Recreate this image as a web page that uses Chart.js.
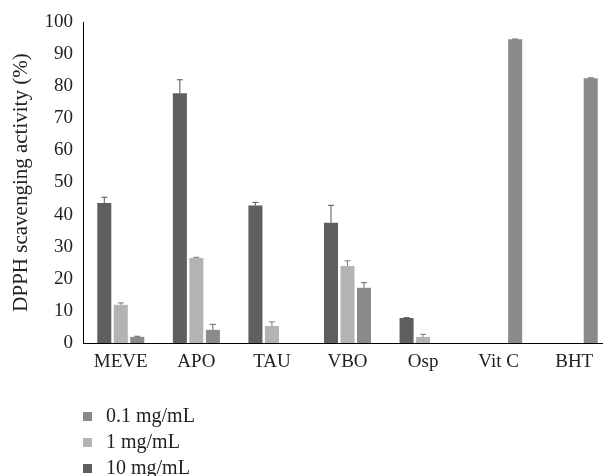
<!DOCTYPE html>
<html>
<head>
<meta charset="utf-8">
<script src="https://cdn.jsdelivr.net/npm/chart.js@4.4.1/dist/chart.umd.min.js"></script>
<style>
  body { margin: 0; background: #fff; }
  #wrap { position: relative; width: 603px; height: 476px; overflow: hidden; }
  #legend { position: absolute; left: 83px; top: 402px; font-family: "Liberation Serif", serif; font-size: 20px; color: #222; }
  #legend div { height: 26px; line-height: 26px; white-space: nowrap; }
  #legend span { display: inline-block; width: 9px; height: 9px; margin-right: 14px; vertical-align: 1px; }
</style>
</head>
<body>
<div id="wrap">
  <canvas id="chart" width="612" height="476"></canvas>
  <div id="legend"></div>
</div>
<script>
const categories = ['MEVE', 'APO', 'TAU', 'VBO', 'Osp', 'Vit C', 'BHT'];

// bars drawn in this order: 10, 1, 0.1 mg/mL
const conc10 = [43.6, 77.8, 42.8, 37.5, 7.8, null, null];
const conc10Err = [1.8, 4.2, 1.0, 5.4, 0.1, null, null];
const conc1 = [11.9, 26.5, 5.3, 24.0, 1.9, null, null];
const conc1Err = [0.6, 0.2, 1.3, 1.6, 0.8, null, null];
const conc01 = [1.9, 4.1, null, 17.2, null, 94.6, 82.5];
const conc01Err = [0.2, 1.7, null, 1.6, null, 0.1, 0.1];

const yTicks = [0, 10, 20, 30, 40, 50, 60, 70, 80, 90, 100];

const errorBars = {
  id: 'errorBars',
  afterDatasetsDraw(chart) {
    const ctx = chart.ctx;
    const y = chart.scales.y;
    chart.data.datasets.forEach((ds, i) => {
      const meta = chart.getDatasetMeta(i);
      meta.data.forEach((bar, j) => {
        const v = ds.data[j];
        const e = ds.errors[j];
        if (v == null || e == null) return;
        const top = y.getPixelForValue(v + e);
        ctx.save();
        ctx.strokeStyle = ds.errorColor;
        ctx.lineWidth = 1;
        ctx.beginPath();
        ctx.moveTo(bar.x, bar.y);
        ctx.lineTo(bar.x, top);
        ctx.moveTo(bar.x - 3, top);
        ctx.lineTo(bar.x + 3, top);
        ctx.stroke();
        ctx.restore();
      });
    });
  }
};

const font = { family: '"Liberation Serif", serif', size: 19 };

const chart = new Chart(document.getElementById('chart'), {
  type: 'bar',
  data: {
    labels: categories,
    datasets: [
      { label: '10 mg/mL', data: conc10, errors: conc10Err, backgroundColor: '#5f5f5f', errorColor: '#555555' },
      { label: '1 mg/mL', data: conc1, errors: conc1Err, backgroundColor: '#b3b3b3', errorColor: '#7a7a7a' },
      { label: '0.1 mg/mL', data: conc01, errors: conc01Err, backgroundColor: '#8a8a8a', errorColor: '#666666' }
    ]
  },
  options: {
    responsive: false,
    animation: false,
    categoryPercentage: 0.655,
    barPercentage: 0.85,
    layout: { padding: { top: 22, left: 0, right: 0, bottom: 0 } },
    plugins: { legend: { display: false }, tooltip: { enabled: false } },
    scales: {
      x: {
        grid: { display: false, drawTicks: false },
        border: { display: true, color: '#000', width: 1 },
        ticks: { font: font, color: '#222', padding: 8 },
        afterFit(scale) { scale.height = 133; }
      },
      y: {
        min: 0,
        max: 100,
        afterBuildTicks(scale) { scale.ticks = yTicks.map(v => ({ value: v })); },
        grid: { display: false, drawTicks: false },
        border: { display: true, color: '#000', width: 1 },
        ticks: { font: font, color: '#222', padding: 10 },
        title: { display: true, text: 'DPPH scavenging activity (%)', font: { family: font.family, size: 21 }, color: '#222', padding: { top: 9, bottom: 0 } },
        afterFit(scale) { scale.width = 83; }
      }
    }
  },
  plugins: [errorBars]
});

// legend listed 0.1, 1, 10 like the original
const legend = document.getElementById('legend');
chart.data.datasets.slice().reverse().forEach(ds => {
  const row = document.createElement('div');
  const box = document.createElement('span');
  box.style.background = ds.backgroundColor;
  row.appendChild(box);
  row.appendChild(document.createTextNode(ds.label));
  legend.appendChild(row);
});
</script>
</body>
</html>
